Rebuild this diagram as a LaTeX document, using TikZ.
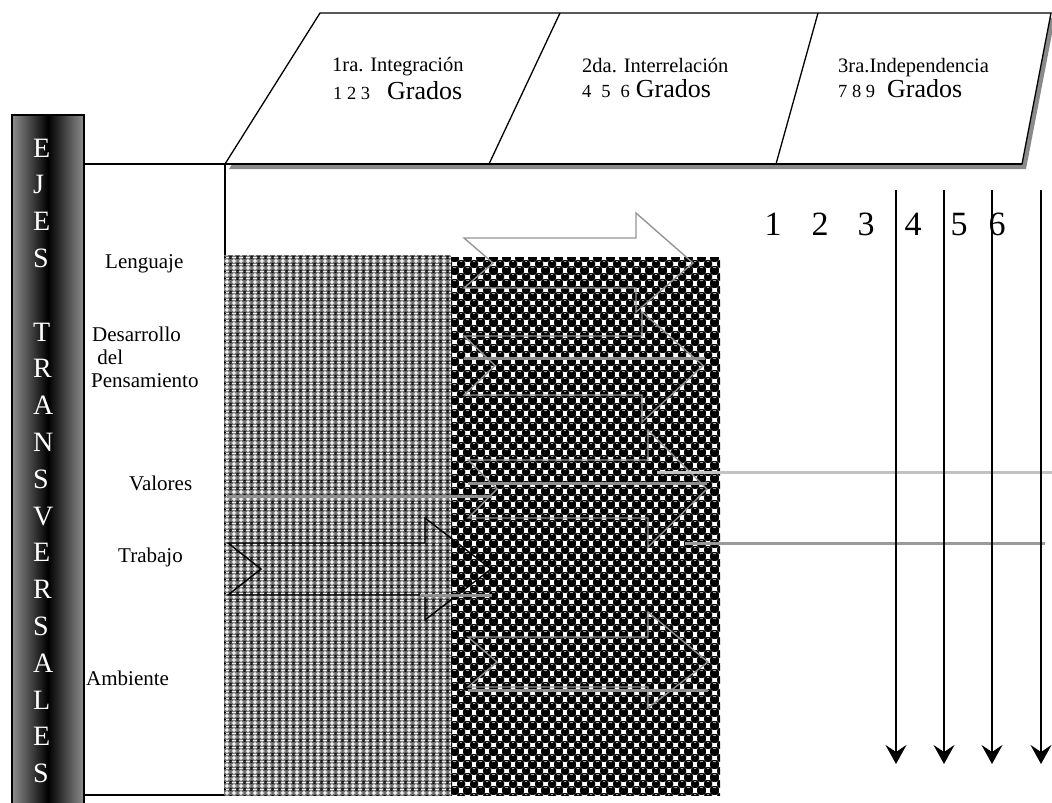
\documentclass[tikz,border=0pt]{standalone}
\usepackage{fontspec}
\setmainfont{Liberation Serif}
\usetikzlibrary{arrows.meta,patterns}

\definecolor{outlinegray}{HTML}{959595}
\definecolor{bargray}{HTML}{8E8E8E}
\definecolor{lightrule}{HTML}{C2C2C2}
\definecolor{darkrule}{HTML}{9A9A9A}
\definecolor{shadowgray}{HTML}{8A8A8A}
\definecolor{crossbg}{HTML}{6C6C6C}
\definecolor{ballbg}{HTML}{A8A8A8}
\definecolor{ballshine}{HTML}{C8C8C8}

% fine grey texture with small white crosses
\pgfdeclarepatterninherentlycolored{finecross}
  {\pgfpointorigin}{\pgfpoint{7pt}{7pt}}{\pgfpoint{7pt}{7pt}}
  {%
    \pgfsetfillcolor{crossbg}%
    \pgfpathrectangle{\pgfpointorigin}{\pgfpoint{7pt}{7pt}}%
    \pgfusepath{fill}%
    \pgfsetfillcolor{white}%
    \pgfpathrectangle{\pgfpoint{2.75pt}{1pt}}{\pgfpoint{1.5pt}{5pt}}%
    \pgfpathrectangle{\pgfpoint{1pt}{2.75pt}}{\pgfpoint{5pt}{1.5pt}}%
    \pgfusepath{fill}%
    \pgfsetfillcolor{black}%
    \pgfpathcircle{\pgfpointorigin}{1.2pt}%
    \pgfpathcircle{\pgfpoint{7pt}{0pt}}{1.2pt}%
    \pgfpathcircle{\pgfpoint{0pt}{7pt}}{1.2pt}%
    \pgfpathcircle{\pgfpoint{7pt}{7pt}}{1.2pt}%
    \pgfusepath{fill}%
  }

% black balls with white squares in between
\pgfdeclarepatterninherentlycolored{ballgrid}
  {\pgfpointorigin}{\pgfpoint{13pt}{13pt}}{\pgfpoint{13pt}{13pt}}
  {%
    \pgfsetfillcolor{ballbg}%
    \pgfpathrectangle{\pgfpointorigin}{\pgfpoint{13pt}{13pt}}%
    \pgfusepath{fill}%
    \pgfsetfillcolor{black}%
    \pgfpathcircle{\pgfpointorigin}{4.6pt}%
    \pgfpathcircle{\pgfpoint{13pt}{0pt}}{4.6pt}%
    \pgfpathcircle{\pgfpoint{0pt}{13pt}}{4.6pt}%
    \pgfpathcircle{\pgfpoint{13pt}{13pt}}{4.6pt}%
    \pgfpathcircle{\pgfpoint{6.5pt}{6.5pt}}{4.6pt}%
    \pgfusepath{fill}%
    \pgfsetfillcolor{white}%
    \pgfpathrectangle{\pgfpoint{4.5pt}{-2pt}}{\pgfpoint{4pt}{4pt}}%
    \pgfpathrectangle{\pgfpoint{4.5pt}{11pt}}{\pgfpoint{4pt}{4pt}}%
    \pgfpathrectangle{\pgfpoint{-2pt}{4.5pt}}{\pgfpoint{4pt}{4pt}}%
    \pgfpathrectangle{\pgfpoint{11pt}{4.5pt}}{\pgfpoint{4pt}{4pt}}%
    \pgfusepath{fill}%
    \pgfsetfillcolor{ballshine}%
    \pgfpathellipse{\pgfpoint{6.5pt}{9pt}}{\pgfpoint{1.4pt}{0pt}}{\pgfpoint{0pt}{0.6pt}}%
    \pgfpathellipse{\pgfpoint{0pt}{2.5pt}}{\pgfpoint{1.4pt}{0pt}}{\pgfpoint{0pt}{0.6pt}}%
    \pgfpathellipse{\pgfpoint{13pt}{2.5pt}}{\pgfpoint{1.4pt}{0pt}}{\pgfpoint{0pt}{0.6pt}}%
    \pgfusepath{fill}%
  }

% notched block arrow: style, x tail, x notch, x head, x tip, y head top, y shaft top, y shaft bottom, y head bottom
\newcommand\blockarrow[9]{%
  \draw[#1] (#2,#7) -- (#4,#7) -- (#4,#6) -- (#5,{(#7+#8)/2}) -- (#4,#9)
    -- (#4,#8) -- (#2,#8) -- (#3,{(#7+#8)/2}) -- cycle;}

\tikzset{
  frame/.style={draw=black, line width=1.4pt},
  hdr/.style={anchor=base west, inner sep=0pt, font=\fontsize{20.5}{22}\selectfont},
  hdrnum/.style={anchor=base west, inner sep=0pt, font=\fontsize{18.5}{22}\selectfont},
  axislabel/.style={anchor=base west, inner sep=0pt, font=\fontsize{21}{24}\selectfont},
  barletter/.style={anchor=base west, inner sep=0pt, text=white, font=\fontsize{28}{30}\selectfont},
  colnum/.style={anchor=base, inner sep=0pt, font=\fontsize{34}{36}\selectfont},
  grayoutline/.style={draw=outlinegray, line width=1.4pt, line join=miter},
  blackoutline/.style={draw=black, line width=1.4pt, line join=miter},
  midrule/.style={draw=bargray, line width=3pt},
  gradeline/.style={draw=black, line width=1.6pt,
    -{Stealth[length=19pt, width=21pt, inset=7pt]}},
}

\newcommand\grados{{\fontsize{26}{28}\selectfont Grados}}

\begin{document}
\begin{tikzpicture}[x=1pt, y=-1pt]
\useasboundingbox (0,0) rectangle (1052,803);

% vertical bar of the transversal axes
\shade[left color=bargray, right color=bargray, middle color=black]
  (12,115) rectangle (84,808);
\draw[frame] (12,808) -- (12,115) -- (84,115) -- (84,808);
\foreach \ch [count=\i from 0] in {E,J,E,S,,T,R,A,N,S,V,E,R,S,A,L,E,S}
  \node[barletter] (bar\i) at (33,{157+36.8*\i}) {\ch};

% frame of the axis labels
\draw[frame] (84,164) -- (225,164) -- (225,795);
\draw[frame] (84,795) -- (225,795);

% header with the three stages
\fill[shadowgray, shift={(4,5)}] (225,164) -- (320,13) -- (1051,13) -- (1022,164) -- cycle;
\filldraw[fill=white, draw=black, line width=1.3pt]
  (225,164) -- (320,13) -- (1051,13) -- (1022,164) -- cycle;
\draw[black, line width=2.2pt] (225,164) -- (1022,164);
\draw[black, line width=1.3pt] (489,164) -- (560,13);
\draw[black, line width=1.3pt] (776,164) -- (818,13);

\node[hdr] (st1) at (332,71) {1ra. Integración};
\node[hdrnum] (gr1) at (333,99) {1 2 3\hspace{17pt}\grados};
\node[hdr] (st2) at (582,72) {2da. Interrelación};
\node[hdrnum] (gr2) at (582,97) {4\hspace{10pt}5\hspace{10pt}6\hspace{6pt}\grados};
\node[hdr] (st3) at (838,72) {3ra.Independencia};
\node[hdrnum] (gr3) at (838,97) {7 8 9\hspace{12pt}\grados};

% axis labels
\node[axislabel] (lenguaje) at (105,268) {Lenguaje};
\node[axislabel] (desa1) at (92,341) {Desarrollo};
\node[axislabel] (desa2) at (92,364) {\ del};
\node[axislabel] (desa3) at (91,387) {Pensamiento};
\node[axislabel] (valores) at (129,490) {Valores};
\node[axislabel] (trabajo) at (118,562) {Trabajo};
\node[axislabel] (ambiente) at (86,685) {Ambiente};

% textured fields
\fill[pattern=finecross] (224,255) rectangle (451,795);
\fill[pattern=ballgrid] (451,257) rectangle (720,795);

% block arrows across the stages
\blockarrow{grayoutline}{464}{493}{636}{693}{213}{238}{288}{312}
\blockarrow{grayoutline}{464}{495}{642}{703}{312}{336}{395}{422}
\draw[midrule] (464,358) -- (705,358);
\blockarrow{grayoutline}{468}{497}{648}{707}{430}{460}{518}{547}
\draw[midrule] (468,483) -- (707,483);
\draw[midrule] (227,496) -- (492,496);
\blockarrow{blackoutline}{228}{261}{425}{491}{518}{543}{595}{620}
\draw[midrule] (420,595) -- (492,595);
\blockarrow{grayoutline}{468}{497}{648}{708}{612}{637}{687}{708}
\draw[midrule] (468,690) -- (708,690);

% long rules reaching the grades
\draw[lightrule, line width=3pt] (657,472) -- (1052,472);
\draw[darkrule, line width=3pt] (685,543) -- (1045,543);

% grade numbers and grade lines
\node[colnum] (n1) at (773,235) {1};
\node[colnum] (n2) at (820,235) {2};
\node[colnum] (n3) at (866,235) {3};
\node[colnum] (n4) at (913,235) {4};
\node[colnum] (n5) at (959,235) {5};
\node[colnum] (n6) at (997,235) {6};

\foreach \k/\x in {a/896, b/944, c/992, d/1041} {
  \coordinate (top\k) at (\x,190);
  \coordinate (end\k) at (\x,764);
  \draw[gradeline] (top\k) -- (end\k);
}
\end{tikzpicture}
\end{document}
